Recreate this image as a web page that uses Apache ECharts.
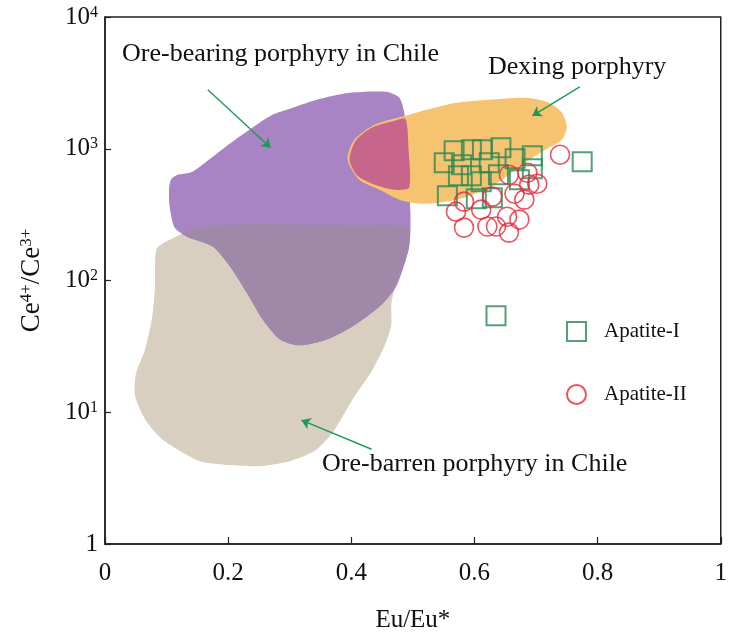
<!DOCTYPE html>
<html><head><meta charset="utf-8">
<script src="https://cdn.jsdelivr.net/npm/echarts@6/dist/echarts.min.js"></script>
<style>html,body{margin:0;padding:0;background:#fff}#c{width:730px;height:638px}</style>
</head><body><div id="c"></div>
<script>
// ---- data (Eu/Eu*, Ce4+/Ce3+) ----
const xTicks = [0, 0.2, 0.4, 0.6, 0.8, 1];
const yTickLabels = {1: '1', 10: '10{s|1}', 100: '10{s|2}', 1000: '10{s|3}', 10000: '10{s|4}'};

const apatiteI = [[0.567,966],[0.595,983],[0.613,983],[0.643,1018],[0.551,783],[0.579,756],[0.624,783],
  [0.666,840],[0.694,885],[0.775,797],[0.595,624],[0.639,635],[0.673,582],[0.694,705],[0.556,440],
  [0.603,418],[0.629,425],[0.611,562],[0.574,624],[0.635,54]];
const apatiteII = [[0.739,901],[0.656,635],[0.686,658],[0.702,543],[0.681,411],[0.665,456],[0.629,433],
  [0.583,397],[0.570,333],[0.611,345],[0.653,305],[0.673,290],[0.583,252],[0.621,257],[0.635,257],
  [0.656,231],[0.689,534]];

// field outlines
const oreBarren = [[0.083,172],[0.097,195],[0.118,218],[0.154,252],[0.219,266],[0.316,266],[0.413,261],
  [0.491,252],[0.486,157],[0.472,93.3],[0.465,65.8],[0.465,46.4],[0.455,32.7],[0.433,20.5],[0.402,12.5],
  [0.370,7.05],[0.340,5.07],[0.300,4.25],[0.251,3.90],[0.203,3.97],[0.154,4.25],[0.122,5.07],[0.089,6.47],
  [0.065,8.85],[0.049,13.2],[0.050,19.4],[0.065,30.0],[0.076,50.7],[0.081,85.5]];
const oreBearing = [[0.107,582],[0.118,635],[0.138,658],[0.154,731],[0.175,869],[0.207,1130],[0.251,1574],
  [0.272,1810],[0.295,1974],[0.344,2350],[0.397,2656],[0.457,2704],[0.478,2434],[0.486,1875],[0.491,1036],
  [0.496,327],[0.494,181],[0.473,90],[0.446,63.5],[0.402,44.8],[0.360,35.7],[0.316,32.2],[0.284,35.7],
  [0.256,50.7],[0.230,81.1],[0.203,127.6],[0.175,181],[0.133,215],[0.113,252],[0.105,364],[0.104,489]];
const bearingBarrenOverlap = [[0.126,227],[0.154,252],[0.219,266],[0.316,266],[0.413,261],[0.491,252],
  [0.493,172],[0.475,105],[0.462,76.9],[0.446,63.5],[0.402,44.8],[0.360,35.7],[0.316,32.2],[0.284,35.7],
  [0.256,50.7],[0.230,81.1],[0.203,127.6],[0.175,181],[0.133,215]];
const dexing = [[0.394,826],[0.405,1170],[0.438,1520],[0.494,1810],[0.522,1974],[0.571,2230],[0.624,2350],
  [0.684,2434],[0.721,2230],[0.742,1875],[0.750,1468],[0.742,1170],[0.721,1018],[0.689,826],[0.656,635],
  [0.624,507],[0.583,425],[0.543,390],[0.511,383],[0.478,411],[0.446,489],[0.413,582]];
const dexingBearingOverlap = [[0.397,826],[0.407,1150],[0.433,1443],[0.470,1630],[0.488,1688],[0.493,983],
  [0.494,507],[0.470,489],[0.438,534],[0.410,624]];

// annotation arrows [from, to]
const arrowBearing = [[0.167,2800],[0.269,1018]];
const arrowDexing = [[0.771,2950],[0.694,1778]];
const arrowBarren = [[0.433,5.24],[0.319,8.70]];

const SERIF = '"Liberation Serif","DejaVu Serif",serif';
const GREEN_ARROW = '#1f9a55';

function field(name, pts, color) {
  return {
    type: 'custom', name: name, coordinateSystem: 'cartesian2d', silent: true,
    data: pts, encode: {x: 0, y: 1},
    renderItem: function (params, api) {
      if (params.dataIndex !== 0) return null;
      const points = pts.map(p => api.coord(p));
      return {type: 'polygon', shape: {points: points, smooth: 0.25}, style: {fill: color}};
    }
  };
}

const chart = echarts.init(document.getElementById('c'));
chart.setOption({
  animation: false,
  grid: {left: 105, right: 8, top: 17, bottom: 93, show: true, borderColor: '#222', borderWidth: 1.5},
  xAxis: {
    type: 'value', min: 0, max: 1, interval: 0.2,
    name: 'Eu/Eu*', nameLocation: 'middle', nameGap: 64,
    nameTextStyle: {fontFamily: SERIF, fontSize: 25, color: '#111'},
    axisLine: {lineStyle: {color: '#222', width: 1.5}},
    axisTick: {inside: true, length: 7, lineStyle: {color: '#222', width: 1.2}},
    axisLabel: {fontFamily: SERIF, fontSize: 25, color: '#111', margin: 17,
      formatter: v => (xTicks.indexOf(v) >= 0 ? String(v) : '')},
    splitLine: {show: false}
  },
  yAxis: {
    type: 'log', logBase: 10, min: 1, max: 10000,
    name: 'Ce{s|4+}/Ce{s|3+}', nameLocation: 'middle', nameGap: 60, nameRotate: 90,
    nameTextStyle: {fontFamily: SERIF, fontSize: 27, color: '#111',
      rich: {s: {fontFamily: SERIF, fontSize: 17, color: '#111', verticalAlign: 'top'}}},
    axisLine: {lineStyle: {color: '#222', width: 1.5}},
    axisTick: {inside: true, length: 6, lineStyle: {color: '#222', width: 1.2}},
    axisLabel: {fontFamily: SERIF, fontSize: 25, color: '#111', margin: 7,
      formatter: v => yTickLabels[Math.round(v)] || '',
      rich: {s: {fontFamily: SERIF, fontSize: 16, color: '#111', verticalAlign: 'top'}}},
    splitLine: {show: false}, minorTick: {show: false}
  },
  legend: {
    data: ['Apatite-I', 'Apatite-II'], orient: 'vertical', left: 561, top: 316,
    itemWidth: 19, itemHeight: 19, itemGap: 42,
    textStyle: {fontFamily: SERIF, fontSize: 21, color: '#111', lineHeight: 19, padding: [0, 0, 0, 13]}
  },
  series: [
    field('barren', oreBarren, '#d8cfc1'),
    field('bearing', oreBearing, '#a984c5'),
    field('overlap1', bearingBarrenOverlap, '#a089a8'),
    field('dexing', dexing, '#f6c470'),
    field('overlap2', dexingBearingOverlap, '#c7668a'),
    {
      type: 'lines', coordinateSystem: 'cartesian2d', silent: true,
      symbol: ['none', 'arrow'], symbolSize: [0, 9],
      lineStyle: {color: GREEN_ARROW, width: 1.4, opacity: 1},
      data: [{coords: arrowBearing}, {coords: arrowDexing}, {coords: arrowBarren}]
    },
    {
      name: 'Apatite-I', type: 'scatter', symbol: 'rect', symbolSize: 19, data: apatiteI,
      itemStyle: {color: 'rgba(0,0,0,0)', borderColor: '#2a8a55', borderWidth: 2}
    },
    {
      name: 'Apatite-II', type: 'scatter', symbol: 'circle', symbolSize: 19, data: apatiteII,
      itemStyle: {color: 'rgba(0,0,0,0)', borderColor: '#e8283a', borderWidth: 1.6}
    }
  ],
  graphic: [
    {type: 'text', left: 122, top: 41, style: {text: 'Ore-bearing porphyry in Chile', font: '26px ' + SERIF, fill: '#111'}},
    {type: 'text', left: 488, top: 54, style: {text: 'Dexing porphyry', font: '26px ' + SERIF, fill: '#111'}},
    {type: 'text', left: 322, top: 451, style: {text: 'Ore-barren porphyry in Chile', font: '26px ' + SERIF, fill: '#111'}}
  ]
});
</script></body></html>
